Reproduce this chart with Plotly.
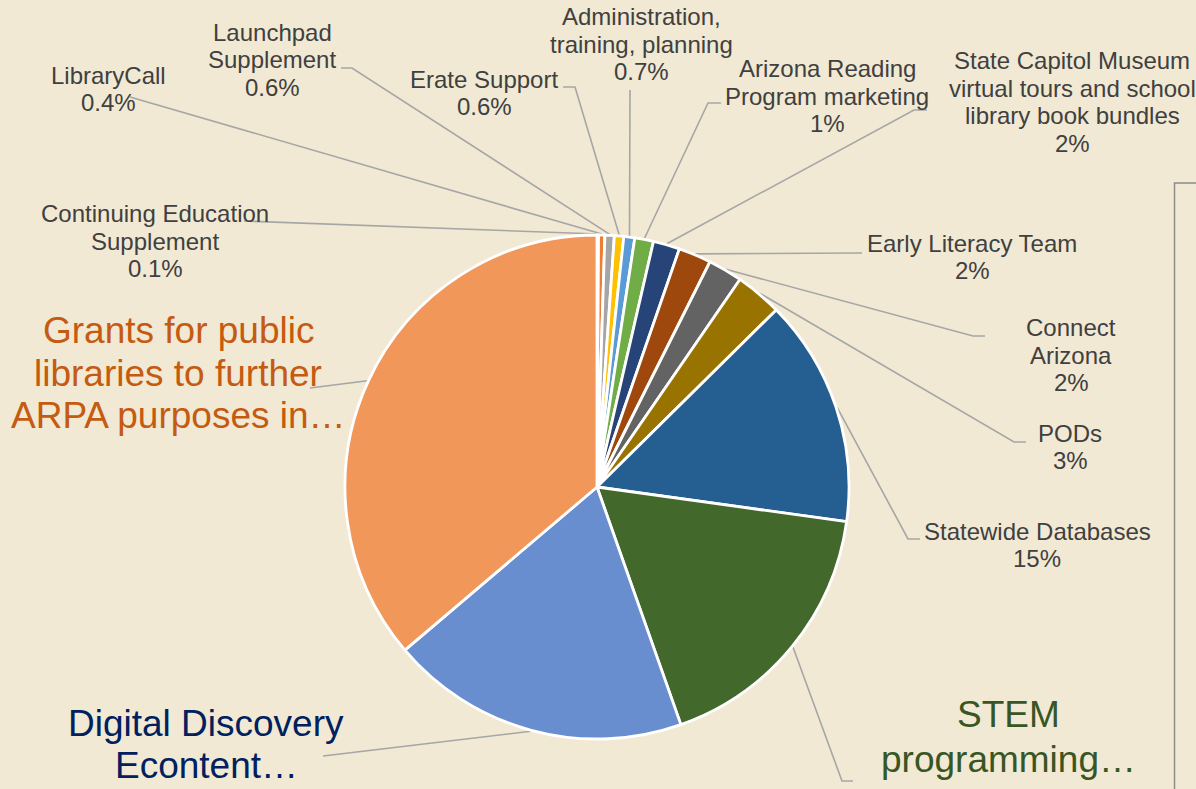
import math
import plotly.graph_objects as go

# ---------------- data ----------------
categories = [
    "Continuing Education Supplement",
    "LibraryCall",
    "Launchpad Supplement",
    "Erate Support",
    "Administration, training, planning",
    "Arizona Reading Program marketing",
    "State Capitol Museum virtual tours and school library book bundles",
    "Early Literacy Team",
    "Connect Arizona",
    "PODs",
    "Statewide Databases",
    "STEM programming…",
    "Digital Discovery Econtent…",
    "Grants for public libraries to further ARPA purposes in…",
]
shares = [0.1, 0.4, 0.6, 0.6, 0.7, 1.2, 1.7, 2.1, 2.2, 3.0, 14.6, 17.4, 19.2, 36.2]

label_names = [
    ["Continuing Education", "Supplement"],
    ["LibraryCall"],
    ["Launchpad", "Supplement"],
    ["Erate Support"],
    ["Administration,", "training, planning"],
    ["Arizona Reading", "Program marketing"],
    ["State Capitol Museum", "virtual tours and school", "library book bundles"],
    ["Early Literacy Team"],
    ["Connect", "Arizona"],
    ["PODs"],
    ["Statewide Databases"],
    ["STEM", "programming…"],
    ["Digital Discovery", "Econtent…"],
    ["Grants for public", "libraries to further", "ARPA purposes in…"],
]
show_percent = [True] * 11 + [False] * 3

# ---------------- styles / layout ----------------
W, H = 1196, 789
BG = "#F1E9D3"
colors = ["#4472C4", "#ED7D31", "#A5A5A5", "#FFC000", "#5B9BD5", "#70AD47",
          "#264478", "#9E480E", "#636363", "#997300", "#255E91", "#43682B",
          "#698ED0", "#F1975A"]
text_colors = ["#404040"] * 11 + ["#375623", "#002060", "#C55A11"]
font_sizes = [24] * 11 + [37, 37, 37]
line_gaps = [27.5] * 11 + [45, 42, 42.5]

CX, CY, R = 597, 487, 252  # pie centre / radius in pixels

# label block centres (pixels)
label_pos = [
    (155, 241), (108, 89), (272, 60), (484, 93), (641, 44), (827, 96),
    (1072, 102), (972, 257), (1071, 355), (1070, 447), (1037, 545),
    (1008, 737), (206, 744), (178, 373),
]
# leader line points on the label side (pixels), the slice end is computed
leader_pts = [
    [(244, 221)],
    [(130, 97)],
    [(341, 68), (352, 68)],
    [(563, 87), (575, 87)],
    [(630, 90)],
    [(721, 103), (708, 103)],
    [(927, 110), (914, 110)],
    [(862, 253)],
    [(985, 336), (973, 336)],
    [(1026, 442), (1014, 442)],
    [(920, 539), (908, 539)],
    [(853, 781), (842, 781)],
    [(323, 756)],
    [(310, 388)],
]


def px(x):
    return x / W


def py(y):
    return 1 - y / H


fig = go.Figure(go.Pie(
    labels=categories,
    values=shares,
    sort=False,
    direction="clockwise",
    rotation=0,
    marker=dict(colors=colors, line=dict(color="white", width=2.8)),
    textinfo="none",
    hoverinfo="label+percent",
    showlegend=False,
    domain=dict(x=[px(CX - R), px(CX + R)], y=[py(CY + R), py(CY - R)]),
))

total = sum(shares)
annotations = []
shapes = []
cum = 0.0
for i, v in enumerate(shares):
    mid = (cum + v / 2) / total * 2 * math.pi
    cum += v
    ax = CX + (R + 1) * math.sin(mid)
    ay = CY - (R + 1) * math.cos(mid)
    pts = leader_pts[i] + [(ax, ay)]
    path = "M " + " L ".join(f"{px(x):.5f},{py(y):.5f}" for x, y in pts)
    shapes.append(dict(type="path", path=path, xref="paper", yref="paper",
                       line=dict(color="#A6A6A6", width=1.6), layer="below"))
    lines = list(label_names[i])
    if show_percent[i]:
        lines.append(f"{v:.1f}%" if v < 1 else f"{v:.0f}%")
    lx, ly = label_pos[i]
    n = len(lines)
    for k, line in enumerate(lines):
        yk = ly + (k - (n - 1) / 2) * line_gaps[i]
        annotations.append(dict(
            x=px(lx), y=py(yk), xref="paper", yref="paper", text=line,
            showarrow=False, xanchor="center", yanchor="middle", align="center",
            font=dict(family="Liberation Sans, Arial, sans-serif",
                      size=font_sizes[i], color=text_colors[i]),
        ))

# partial frame at the right edge
shapes.append(dict(type="path", xref="paper", yref="paper",
                   path=f"M {px(1196)},{py(183)} L {px(1174.5)},{py(183)} L {px(1174.5)},{py(789)}",
                   line=dict(color="#8C8C8C", width=1.5)))

fig.update_layout(
    width=W, height=H,
    margin=dict(l=0, r=0, t=0, b=0),
    paper_bgcolor=BG, plot_bgcolor=BG,
    annotations=annotations, shapes=shapes,
)

fig.write_html(
    "out.html",
    config={"displayModeBar": False},
    post_script=(
        "document.body.style.margin='0';"
        "document.body.style.overflow='hidden';"
        f"document.body.style.background='{BG}';"
    ),
)
